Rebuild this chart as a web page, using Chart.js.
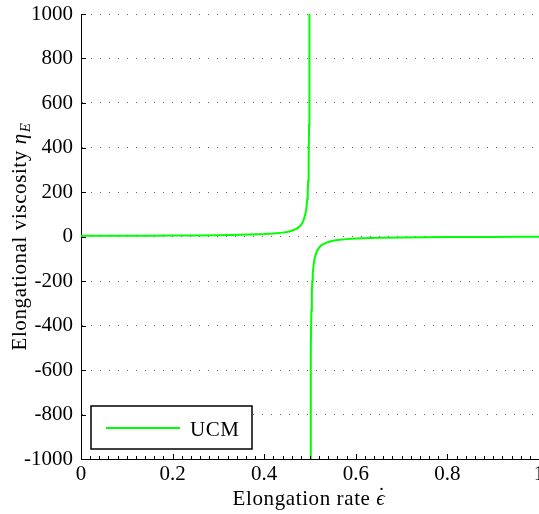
<!DOCTYPE html>
<html><head><meta charset="utf-8">
<script src="https://cdn.jsdelivr.net/npm/chart.js@4/dist/chart.umd.min.js"></script>
<style>html,body{margin:0;padding:0;background:#fff}#wrap{width:539px;height:514px}</style>
</head><body><div id="wrap"><canvas id="c" width="539" height="514"></canvas></div>
<script>
const seriesName = 'UCM';
const xTitleText = 'Elongation rate ';
const xTitleSymbol = 'ϵ';
const xTitleAccent = '˙';
const yTitleText = 'Elongational viscosity ';
const yTitleSymbol = 'η';
const yTitleSub = 'E';
const yTicks = [-1000, -800, -600, -400, -200, 0, 200, 400, 600, 800, 1000];
const xTicks = [0, 0.2, 0.4, 0.6, 0.8, 1];

// branch below the singularity
const leftX = [0, 0.05, 0.1, 0.15, 0.2, 0.25, 0.3, 0.35, 0.4, 0.42, 0.44, 0.45, 0.46, 0.47, 0.475, 0.48, 0.485, 0.49, 0.492, 0.494, 0.495, 0.496, 0.497, 0.498, 0.4985, 0.499];
const leftY = [3.0, 3.2, 3.4, 3.7, 4.2, 4.8, 5.8, 7.4, 10.7, 13.2, 17.4, 20.7, 25.7, 34.0, 40.7, 50.7, 67.3, 100.7, 125.6, 167.3, 200.7, 250.7, 334.2, 501, 668, 1000];
// branch above the singularity
const rightX = [0.501, 0.5015, 0.502, 0.503, 0.504, 0.505, 0.506, 0.508, 0.51, 0.515, 0.52, 0.525, 0.53, 0.54, 0.55, 0.56, 0.58, 0.6, 0.65, 0.7, 0.75, 0.8, 0.85, 0.9, 0.95, 1.0];
const rightY = [-1000, -666, -500, -333, -250, -200, -166, -125, -99.3, -66, -49.3, -39.3, -32.7, -24.4, -19.4, -16.0, -11.8, -9.4, -6.1, -4.4, -3.4, -2.8, -2.2, -1.9, -1.6, -1.5];

const points = leftX.map((x, i) => ({x, y: leftY[i]}))
  .concat([{x: 0.5, y: null}])
  .concat(rightX.map((x, i) => ({x, y: rightY[i]})));

const FONT = '"Liberation Serif", "Times New Roman", serif';
const GREEN = '#00ff00';

const decor = {
  id: 'decor',
  afterDraw(chart) {
    const ctx = chart.ctx;
    const xs = chart.scales.x, ys = chart.scales.y;
    const ca = chart.chartArea;
    ctx.save();
    ctx.strokeStyle = '#000';
    ctx.lineWidth = 1;
    // inward ticks on bottom axis
    ctx.beginPath();
    for (let k = 0; k <= 50; k++) {
      const v = k / 50;
      const px = Math.round(xs.getPixelForValue(v)) + 0.5;
      const len = (k % 10 === 0) ? 5 : 3;
      ctx.moveTo(px, ca.bottom);
      ctx.lineTo(px, ca.bottom - len);
    }
    // inward ticks on left axis
    yTicks.forEach(v => {
      const py = Math.round(ys.getPixelForValue(v)) + 0.5;
      ctx.moveTo(ca.left, py);
      ctx.lineTo(ca.left + 5, py);
    });
    ctx.stroke();

    // legend box
    const lx = 91, ly = 406, lw = 161, lh = 43;
    ctx.fillStyle = '#fff';
    ctx.fillRect(lx, ly, lw, lh);
    ctx.lineWidth = 1.5;
    ctx.strokeRect(lx, ly, lw, lh);
    const ds = chart.data.datasets[0];
    ctx.strokeStyle = ds.borderColor;
    ctx.lineWidth = 2;
    ctx.beginPath();
    ctx.moveTo(106, 428);
    ctx.lineTo(180, 428);
    ctx.stroke();
    ctx.fillStyle = '#000';
    ctx.font = '21px ' + FONT;
    ctx.textBaseline = 'alphabetic';
    ctx.textAlign = 'left';
    ctx.letterSpacing = '0.5px';
    ctx.fillText(ds.label, 190, 436);

    // x title
    ctx.letterSpacing = '0.6px';
    ctx.font = '21px ' + FONT;
    const w1 = ctx.measureText(xTitleText).width;
    ctx.font = 'italic 21px ' + FONT;
    const w2 = ctx.measureText(xTitleSymbol).width;
    let sx = 309 - (w1 + w2) / 2;
    ctx.font = '21px ' + FONT;
    ctx.fillText(xTitleText, sx, 505);
    ctx.font = 'italic 21px ' + FONT;
    ctx.fillText(xTitleSymbol, sx + w1, 505);
    ctx.font = '21px ' + FONT;
    ctx.textAlign = 'center';
    ctx.fillText(xTitleAccent, sx + w1 + w2 / 2 + 1, 502);
    ctx.textAlign = 'left';

    // y title
    ctx.translate(26, 237);
    ctx.rotate(-Math.PI / 2);
    ctx.font = '21px ' + FONT;
    const a = ctx.measureText(yTitleText).width;
    ctx.font = 'italic 21px ' + FONT;
    const b = ctx.measureText(yTitleSymbol).width;
    ctx.font = 'italic 15px ' + FONT;
    const c = ctx.measureText(yTitleSub).width;
    let s = -(a + b + c) / 2;
    ctx.font = '21px ' + FONT;
    ctx.fillText(yTitleText, s, 0);
    ctx.font = 'italic 21px ' + FONT;
    ctx.fillText(yTitleSymbol, s + a, 0);
    ctx.font = 'italic 15px ' + FONT;
    ctx.fillText(yTitleSub, s + a + b + 1, 4);
    ctx.restore();
  }
};

new Chart(document.getElementById('c'), {
  type: 'scatter',
  data: {
    datasets: [{
      label: seriesName,
      data: points,
      showLine: true,
      spanGaps: false,
      borderColor: GREEN,
      backgroundColor: GREEN,
      borderWidth: 2,
      pointRadius: 0,
      pointHoverRadius: 0,
      tension: 0
    }]
  },
  options: {
    responsive: false,
    animation: false,
    devicePixelRatio: 1,
    events: [],
    layout: {padding: {top: 14, right: 0, left: 0, bottom: 0}},
    plugins: {legend: {display: false}, tooltip: {enabled: false}},
    scales: {
      x: {
        type: 'linear', min: 0, max: 1,
        afterFit: s => { s.height = 55; s.paddingRight = 0; s.paddingLeft = 0; },
        afterBuildTicks: s => { s.ticks = xTicks.map(v => ({value: v})); },
        grid: {display: false, drawTicks: false},
        border: {display: true, color: '#000', width: 1},
        ticks: {
          padding: 3, color: '#000', maxRotation: 0, autoSkip: false,
          font: {family: FONT, size: 21},
          callback: v => String(v)
        }
      },
      y: {
        type: 'linear', min: -1000, max: 1000,
        afterFit: s => { s.width = 81; s.paddingTop = 0; s.paddingBottom = 0; },
        afterBuildTicks: s => { s.ticks = yTicks.map(v => ({value: v})); },
        grid: {display: true, drawTicks: false, color: '#666', lineWidth: 1},
        border: {display: true, color: '#000', width: 1, dash: [1, 8]},
        ticks: {
          padding: 8, color: '#000', autoSkip: false,
          font: {family: FONT, size: 21},
          callback: v => String(v)
        }
      }
    }
  },
  plugins: [decor]
});
</script>
</body></html>
